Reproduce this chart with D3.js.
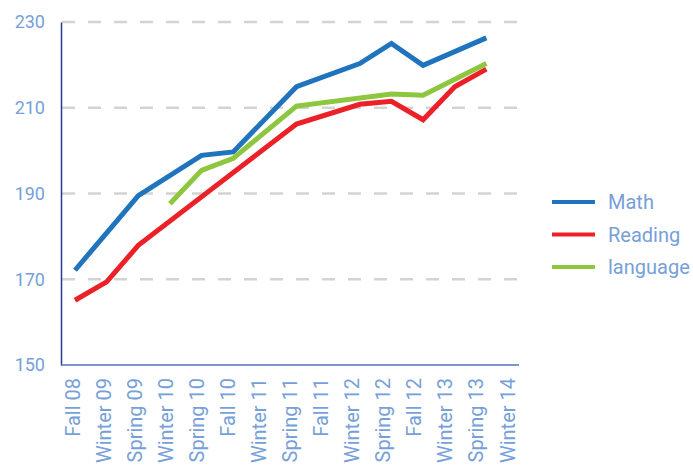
<!DOCTYPE html>
<html>
<head>
<meta charset="utf-8">
<script src="https://cdn.jsdelivr.net/npm/d3@7"></script>
<style>
  body { margin: 0; background: #fff; }
  text { font-family: Roboto, "DejaVu Sans", sans-serif; fill: #76a0d8; }
</style>
</head>
<body>
<script>
// categories on the x axis
var terms = ["Fall 08", "Winter 09", "Spring 09", "Winter 10", "Spring 10", "Fall 10",
             "Winter 11", "Spring 11", "Fall 11", "Winter 12", "Spring 12", "Fall 12",
             "Winter 13", "Spring 13", "Winter 14"];

// series values (null = no score that term)
var math     = [172.1, null, 189.5, null, 198.9, 199.7, null, 214.9, null, 220.3, 225.0, 219.9, null, 226.3, null];
var reading  = [165.1, 169.4, 177.9, null, null, null, null, 206.2, null, 210.8, 211.5, 207.2, 214.9, 219.0, null];
var language = [null, null, null, 187.6, 195.4, 198.2, null, 210.4, null, null, 213.2, 212.9, null, 220.3, null];

var yTicks = [150, 170, 190, 210, 230];

var series = [
  {name: "Math", values: math, color: "#1f74bd"},
  {name: "Reading", values: reading, color: "#ec2027"},
  {name: "language", values: language, color: "#8dc63f"}
];

var width = 693, height = 469;
var svg = d3.select("body").append("svg")
    .attr("width", width)
    .attr("height", height);

// Scales
var x = d3.scalePoint().domain(terms).range([75, 518]);
var xLab = d3.scalePoint().domain(terms).range([72, 507]);
var y = d3.scaleLinear().domain([150, 230]).range([365, 22]);

// gridlines
svg.append("g")
  .selectAll("line")
  .data(yTicks.slice(1))
  .enter().append("line")
    .attr("x1", 62)
    .attr("x2", 519)
    .attr("y1", function(d) { return y(d); })
    .attr("y2", function(d) { return y(d); })
    .attr("stroke", "#d3d3d3")
    .attr("stroke-width", 2.5)
    .attr("stroke-dasharray", "13,13");

// Y axis
var yAxis = svg.append("g")
    .attr("transform", "translate(61,0)")
    .call(d3.axisLeft(y).tickValues(yTicks).tickSize(0).tickPadding(16));
yAxis.select(".domain").attr("stroke", "#2b3990").attr("stroke-width", 1.5);
yAxis.selectAll("text").style("font-size", "18px");

// X axis
var xAxis = svg.append("g")
    .attr("transform", "translate(0,365)")
    .call(d3.axisBottom(xLab).tickSize(0));
xAxis.select(".domain")
    .attr("d", "M61,0H519")
    .attr("stroke", "#5671bd")
    .attr("stroke-width", 1.5);
xAxis.selectAll("text")
    .style("font-size", "20px")
    .attr("text-anchor", "end")
    .attr("transform", "rotate(-90)")
    .attr("x", -13)
    .attr("y", 0)
    .attr("dy", "0.35em");

// Lines
var line = d3.line()
    .x(function(d) { return x(d.term); })
    .y(function(d) { return y(d.value); });

series.forEach(function(s) {
  var pts = terms.map(function(t, i) { return {term: t, value: s.values[i]}; })
                 .filter(function(d) { return d.value != null; });
  svg.append("path")
    .datum(pts)
    .attr("fill", "none")
    .attr("stroke", s.color)
    .attr("stroke-width", 5)
    .attr("stroke-linejoin", "miter")
    .attr("d", line);
});

// Legend
var legend = svg.append("g")
  .selectAll("g")
  .data(series)
  .enter().append("g")
    .attr("transform", function(d, i) { return "translate(552," + (202 + i * 32.5) + ")"; });
legend.append("line")
    .attr("x1", 0).attr("x2", 43)
    .attr("stroke", function(d) { return d.color; })
    .attr("stroke-width", 4);
legend.append("text")
    .attr("x", 56)
    .attr("dy", "0.35em")
    .style("font-size", "20px")
    .text(function(d) { return d.name; });
</script>
</body>
</html>
